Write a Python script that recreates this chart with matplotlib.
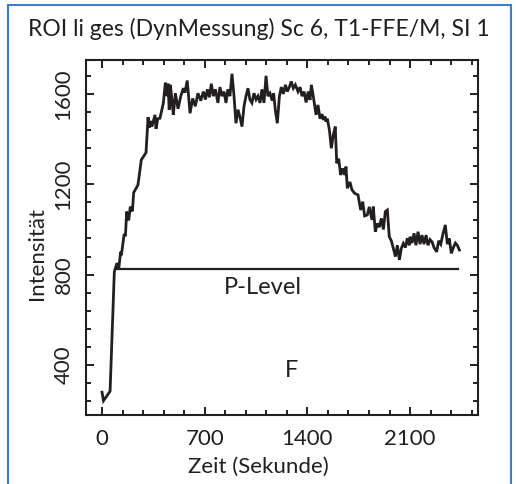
import matplotlib
matplotlib.use("Agg")
import matplotlib.pyplot as plt
from matplotlib.lines import Line2D
from matplotlib.ticker import MultipleLocator

plt.rcParams['font.family'] = ['Lato', 'DejaVu Sans']

time_s = [0, 10, 55, 84, 92, 100, 107, 114, 127, 132, 150, 160, 168, 182, 193, 207, 216, 245,
          268, 300, 314, 321, 330, 340, 361, 368, 380, 395, 418, 432, 444, 450, 458, 466, 477,
          486, 500, 518, 537, 554, 565, 581, 600, 618, 636, 654, 673, 691, 705, 718, 732, 745,
          759, 773, 790, 804, 818, 832, 845, 858, 872, 886, 900, 913, 927, 941, 954, 968, 981,
          995, 1008, 1022, 1036, 1050, 1063, 1077, 1090, 1104, 1118, 1131, 1145, 1160, 1170,
          1181, 1195, 1209, 1222, 1236, 1250, 1263, 1277, 1290, 1304, 1318, 1336, 1350, 1363,
          1377, 1391, 1405, 1418, 1427, 1440, 1459, 1472, 1486, 1500, 1509, 1520, 1527, 1536,
          1550, 1563, 1577, 1590, 1600, 1613, 1627, 1640, 1654, 1663, 1672, 1690, 1704, 1722,
          1745, 1763, 1777, 1790, 1808, 1822, 1840, 1849, 1863, 1877, 1890, 1904, 1918, 1931,
          1945, 1958, 1972, 1986, 2000, 2013, 2027, 2040, 2054, 2068, 2081, 2095, 2100, 2113,
          2127, 2140, 2154, 2168, 2181, 2195, 2209, 2222, 2236, 2250, 2263, 2281, 2295, 2309,
          2322, 2340, 2354, 2367, 2381, 2395, 2409, 2422, 2436]
intensity = [280, 242, 284, 813, 830, 847, 847, 825, 901, 886, 975, 975, 1079, 1040, 1101, 1080,
             1163, 1197, 1308, 1340, 1497, 1450, 1480, 1455, 1507, 1445, 1490, 1492, 1559, 1650,
             1590, 1645, 1530, 1640, 1570, 1507, 1603, 1534, 1590, 1625, 1605, 1659, 1514, 1580,
             1545, 1603, 1570, 1610, 1575, 1620, 1585, 1645, 1590, 1620, 1560, 1630, 1590, 1610,
             1560, 1620, 1590, 1689, 1589, 1470, 1530, 1495, 1455, 1545, 1589, 1625, 1575, 1560,
             1603, 1575, 1590, 1560, 1620, 1560, 1680, 1590, 1603, 1570, 1603, 1530, 1470, 1589,
             1630, 1600, 1640, 1610, 1630, 1655, 1625, 1640, 1610, 1630, 1590, 1610, 1562, 1610,
             1573, 1640, 1590, 1507, 1551, 1490, 1510, 1485, 1500, 1477, 1490, 1440, 1359, 1420,
             1455, 1293, 1313, 1241, 1270, 1241, 1278, 1182, 1210, 1175, 1160, 1153, 1086, 1123,
             1060, 1064, 1100, 1042, 1101, 990, 1027, 1010, 1049, 1000, 1079, 1086, 968, 950,
             916, 880, 930, 865, 916, 938, 920, 961, 930, 968, 940, 983, 930, 990, 935, 975, 935,
             975, 930, 955, 945, 920, 901, 950, 935, 975, 1020, 935, 960, 894, 920, 940, 930, 909]

p_level = 825
p_level_start = 88
p_level_end = 2428

x_ticks = [0, 700, 1400, 2100]
y_ticks = [400, 800, 1200, 1600]

fig = plt.figure(figsize=(5.16, 4.84), dpi=100)
ax = fig.add_axes([0.1667, 0.1426, 0.7597, 0.7335])

ax.plot(time_s, intensity, color='#231f20', lw=2.0, solid_joinstyle='miter')
ax.plot([p_level_start, p_level_end], [p_level, p_level], color='#231f20', lw=1.6)

ax.set_xlim(-109, 2563)
ax.set_ylim(179, 1750)
ax.set_xticks(x_ticks)
ax.set_yticks(y_ticks)
ax.xaxis.set_minor_locator(MultipleLocator(140))
ax.yaxis.set_minor_locator(MultipleLocator(80))
ax.tick_params(which='both', direction='in', top=True, right=True, width=1.4, color='#231f20')
ax.tick_params(which='major', length=6, labelsize=16, pad=9, labelcolor='#231f20')
ax.tick_params(which='minor', length=3.5)
ax.tick_params(axis='x', pad=10)
for lbl in ax.get_yticklabels():
    lbl.set_rotation(90)
    lbl.set_va('center')
for s in ax.spines.values():
    s.set_linewidth(1.5)
    s.set_color('#231f20')

ax.text(1097, 745, 'P-Level', fontsize=17, ha='center', va='center', color='#231f20')
ax.text(1293, 378, 'F', fontsize=17, ha='center', va='center', color='#231f20')

fig.text(0.5, 1 - 467/484, 'Zeit (Sekunde)', fontsize=16, ha='center', va='center', color='#231f20')
fig.text(37/516, 1 - 254/484, 'Intensität', fontsize=16, ha='center', va='center', rotation=90, color='#231f20')
fig.text(259/516, 1 - 29/484, 'ROI li ges (DynMessung) Sc 6, T1-FFE/M, SI 1', fontsize=16.5,
         ha='center', va='center', color='#231f20')

border = '#3d7fc6'
fig.add_artist(Line2D([8/516, 8/516], [0, 1 - 5/484], transform=fig.transFigure, color=border, lw=1.5))
fig.add_artist(Line2D([511/516, 511/516], [0, 1 - 5/484], transform=fig.transFigure, color=border, lw=1.5))
fig.add_artist(Line2D([8/516, 511/516], [1 - 5/484, 1 - 5/484], transform=fig.transFigure, color=border, lw=1.5))

fig.savefig('out.png', dpi=100)
